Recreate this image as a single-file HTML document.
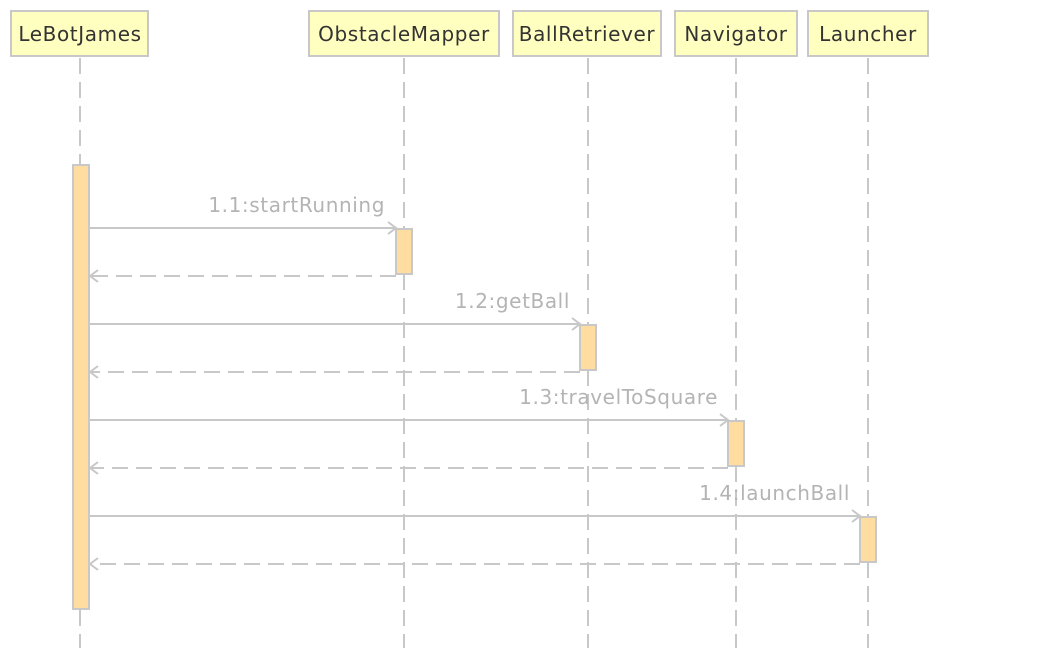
<!DOCTYPE html>
<html><head><style>
html,body{margin:0;padding:0;background:#fff;}
svg{display:block;}
</style></head><body>
<svg width="1058" height="648" xmlns="http://www.w3.org/2000/svg" font-family="'DejaVu Sans','Liberation Sans',sans-serif">
<g stroke="#c8c8c8" stroke-width="2" stroke-dasharray="16,8" fill="none">
<line x1="80" y1="58" x2="80" y2="648"/>
<line x1="404" y1="58" x2="404" y2="648"/>
<line x1="588" y1="58" x2="588" y2="648"/>
<line x1="736" y1="58" x2="736" y2="648"/>
<line x1="868" y1="58" x2="868" y2="648"/>
</g>
<g fill="#ffffc0" stroke="#c8c8c8" stroke-width="2">
<rect x="11" y="11" width="137" height="45"/>
<rect x="309" y="11" width="190" height="45"/>
<rect x="513" y="11" width="148" height="45"/>
<rect x="675" y="11" width="122" height="45"/>
<rect x="808" y="11" width="120" height="45"/>
</g>
<g fill="#333" font-size="20" text-anchor="middle" letter-spacing="0.6">
<text x="80" y="41">LeBotJames</text>
<text x="404" y="41">ObstacleMapper</text>
<text x="587" y="41">BallRetriever</text>
<text x="736" y="41">Navigator</text>
<text x="868" y="41">Launcher</text>
</g>
<g fill="#ffdda0" stroke="#c8c8c8" stroke-width="2">
<rect x="73" y="165" width="16" height="444"/>
<rect x="396" y="229" width="16" height="45"/>
<rect x="580" y="325" width="16" height="45"/>
<rect x="728" y="421" width="16" height="45"/>
<rect x="860" y="517" width="16" height="45"/>
</g>
<g stroke="#c8c8c8" stroke-width="2" fill="none">
<line x1="90" y1="228" x2="396" y2="228"/><polyline points="388,222 396,228 388,234"/>
<line x1="90" y1="324" x2="580" y2="324"/><polyline points="572,318 580,324 572,330"/>
<line x1="90" y1="420" x2="728" y2="420"/><polyline points="720,414 728,420 720,426"/>
<line x1="90" y1="516" x2="860" y2="516"/><polyline points="852,510 860,516 852,522"/>
<g stroke-dasharray="16,8">
<line x1="396" y1="276" x2="90" y2="276"/>
<line x1="580" y1="372" x2="90" y2="372"/>
<line x1="728" y1="468" x2="90" y2="468"/>
<line x1="860" y1="564" x2="90" y2="564"/>
</g>
<polyline points="98,270 90,276 98,282"/>
<polyline points="98,366 90,372 98,378"/>
<polyline points="98,462 90,468 98,474"/>
<polyline points="98,558 90,564 98,570"/>
</g>
<g fill="#b4b4b4" font-size="20" text-anchor="end" letter-spacing="0.6">
<text x="385" y="212">1.1:startRunning</text>
<text x="570" y="308">1.2:getBall</text>
<text x="718" y="404">1.3:travelToSquare</text>
<text x="850" y="500">1.4:launchBall</text>
</g>
</svg>
</body></html>
